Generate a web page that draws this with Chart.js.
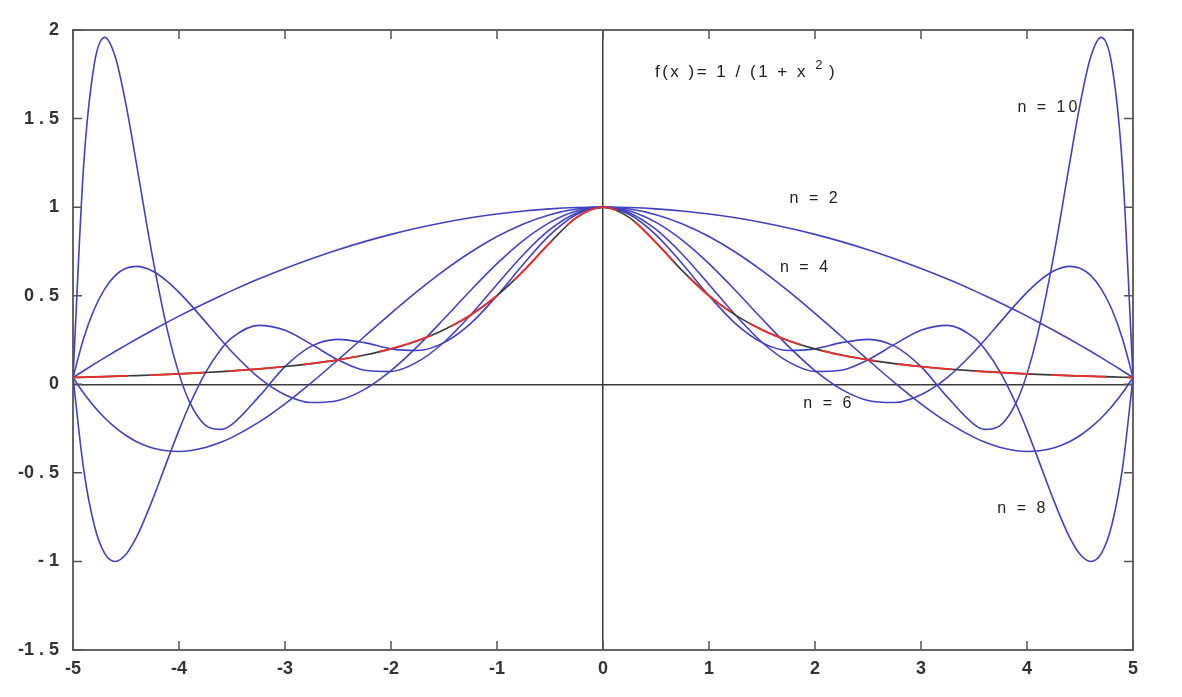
<!DOCTYPE html>
<html><head><meta charset="utf-8">
<script src="https://cdn.jsdelivr.net/npm/chart.js@4/dist/chart.umd.min.js"></script>
<style>html,body{margin:0;padding:0;background:#fff;}canvas{display:block;}</style>
</head><body>
<canvas id="c" width="1182" height="697"></canvas>
<script>
// sample abscissas
const xs = [-5,-4.9,-4.8,-4.7,-4.6,-4.5,-4.4,-4.25,-4.1,-4,-3.9,-3.75,-3.6,-3.5,-3.25,-3,-2.75,-2.5,-2.25,-2,-1.75,-1.5,-1.25,-1,-0.75,-0.5,-0.25,0,0.25,0.5,0.75,1,1.25,1.5,1.75,2,2.25,2.5,2.75,3,3.25,3.5,3.6,3.75,3.9,4,4.1,4.25,4.4,4.5,4.6,4.7,4.8,4.9,5];
// f(x) = 1/(1+x^2)
const runge = [.0385,.0400,.0416,.0433,.0451,.0471,.0491,.0525,.0561,.0588,.0617,.0664,.0716,.0755,.0865,.1,.1168,.1379,.1649,.2,.2462,.3077,.3902,.5,.64,.8,.9412,1,.9412,.8,.64,.5,.3902,.3077,.2462,.2,.1649,.1379,.1168,.1,.0865,.0755,.0716,.0664,.0617,.0588,.0561,.0525,.0491,.0471,.0451,.0433,.0416,.0400,.0385];
const n2 = [.0385,.0765,.1138,.1504,.1862,.2212,.2554,.3053,.3535,.3846,.4150,.4591,.5015,.5288,.5938,.6538,.7091,.7596,.8053,.8462,.8822,.9135,.9399,.9615,.9784,.9904,.9976,1,.9976,.9904,.9784,.9615,.9399,.9135,.8822,.8462,.8053,.7596,.7091,.6538,.5938,.5288,.5015,.4591,.4150,.3846,.3535,.3053,.2554,.2212,.1862,.1504,.1138,.0765,.0385];
const n4 = [.0385,-.0496,-.1257,-.1906,-.2449,-.2891,-.3239,-.3595,-.3769,-.3793,-.3750,-.3568,-.3263,-.2998,-.2153,-.1101,.0096,.1379,.2698,.4005,.5258,.6419,.7456,.8342,.9054,.9576,.9893,1,.9893,.9576,.9054,.8342,.7456,.6419,.5258,.4005,.2698,.1379,.0096,-.1101,-.2153,-.2998,-.3263,-.3568,-.3750,-.3793,-.3769,-.3595,-.3239,-.2891,-.2449,-.1906,-.1257,-.0496,.0385];
const n6 = [.0385,.2588,.4233,.5390,.6145,.6546,.6658,.6396,.5758,.5191,.4552,.3523,.2485,.1824,.0391,-.0590,-.1030,-.0914,-.0285,.0773,.2143,.3696,.5297,.6813,.8128,.9142,.9782,1,.9782,.9142,.8128,.6813,.5297,.3696,.2143,.0773,-.0285,-.0914,-.1030,-.0590,.0391,.1824,.2485,.3523,.4552,.5191,.5758,.6396,.6658,.6546,.6145,.5390,.4233,.2588,.0385];
const n8 = [.0385,-.4781,-.7940,-.9560,-1.0000,-.9598,-.8620,-.6519,-.4139,-.2588,-.1155,.0664,.2011,.2638,.3327,.3049,.2251,.1379,.0794,.0726,.1266,.2374,.3902,.5636,.7328,.8740,.9674,1,.9674,.8740,.7328,.5636,.3902,.2374,.1266,.0726,.0794,.1379,.2251,.3049,.3327,.2638,.2011,.0664,-.1155,-.2588,-.4139,-.6519,-.8620,-.9598,-1.0000,-.9560,-.7940,-.4781,.0385];
const n10 = [.0385,1.2303,1.8044,1.9584,1.8458,1.5787,1.2402,.7195,.2802,.0588,-.1008,-.2315,-.2546,-.2262,-.0726,.1,.2156,.2538,.2350,.2,.1906,.2353,.3426,.5,.6790,.8434,.9586,1,.9586,.8434,.6790,.5,.3426,.2353,.1906,.2,.2350,.2538,.2156,.1,-.0726,-.2262,-.2546,-.2315,-.1008,.0588,.2802,.7195,1.2402,1.5787,1.8458,1.9584,1.8044,1.2303,.0385];

const xTickValues = [-5,-4,-3,-2,-1,0,1,2,3,4,5];
const xTickLabels = ['-5','-4','-3','-2','-1','0','1','2','3','4','5'];
const yTickValues = [-1.5,-1,-0.5,0,0.5,1,1.5,2];
const yTickLabels = ['-1 . 5','- 1','-0 . 5','0','0 . 5','1','1 . 5','2'];

const curveLabels = ['n = 10','n = 2','n = 4','n = 6','n = 8'];
const curveLabelX = [3.91, 1.76, 1.67, 1.89, 3.72];
const curveLabelY = [1.56, 1.05, 0.66, -0.11, -0.70];

const pts = arr => xs.map((x,i)=>({x:x, y:arr[i]}));
const BLUE = '#4242c0';
const tickFontY = {family:'"Liberation Sans", Arial, sans-serif', size:18, weight:'bold'};
const tickFontX = {family:'"Liberation Sans Narrow", "Liberation Sans", Arial, sans-serif', size:18, weight:'bold'};

const inTicks = {
  id:'inTicks',
  afterDraw(chart){
    const {ctx, chartArea:a, scales} = chart;
    const x = scales.x, y = scales.y;
    ctx.save();
    ctx.strokeStyle = '#555';
    ctx.lineWidth = 1.5;
    ctx.beginPath();
    xTickValues.forEach(v=>{
      const px = x.getPixelForValue(v);
      ctx.moveTo(px, a.bottom); ctx.lineTo(px, a.bottom-9);
      ctx.moveTo(px, a.top); ctx.lineTo(px, a.top+9);
    });
    yTickValues.forEach(v=>{
      const py = y.getPixelForValue(v);
      ctx.moveTo(a.left, py); ctx.lineTo(a.left+9, py);
      ctx.moveTo(a.right, py); ctx.lineTo(a.right-9, py);
    });
    ctx.stroke();
    // annotations
    ctx.fillStyle = '#222';
    ctx.textBaseline = 'middle';
    ctx.textAlign = 'left';
    ctx.font = '16px "Liberation Sans", Arial, sans-serif';
    try { ctx.letterSpacing = '3px'; } catch(e) {}
    curveLabels.forEach((t,i)=>{
      ctx.fillText(t, x.getPixelForValue(curveLabelX[i]), y.getPixelForValue(curveLabelY[i]));
    });
    // f(x) label
    try { ctx.letterSpacing = '2.5px'; } catch(e) {}
    ctx.font = '17px "Liberation Sans", Arial, sans-serif';
    let fx = x.getPixelForValue(0.49), fy = y.getPixelForValue(1.76);
    const main = 'f(x )= 1 / (1 + x ';
    ctx.fillText(main, fx, fy);
    fx += ctx.measureText(main).width;
    ctx.font = '13px "Liberation Sans", Arial, sans-serif';
    ctx.fillText('2', fx, fy-7);
    fx += ctx.measureText('2').width + 4;
    ctx.font = '17px "Liberation Sans", Arial, sans-serif';
    ctx.fillText(')', fx, fy);
    ctx.restore();
  }
};

const lineDs = (arr, color, w, dash, order) => ({data: pts(arr), borderColor: color, borderWidth: w, borderDash: dash || [], pointRadius: 0, fill: false, order: order});

new Chart(document.getElementById('c'), {
  type: 'line',
  data: {
    datasets: [
      lineDs(runge, '#e8322e', 1.9, [55, 22], 0),
      lineDs(runge, '#3a3a3a', 1.6, [], 1),
      lineDs(n2, BLUE, 1.6, [], 2),
      lineDs(n4, BLUE, 1.6, [], 3),
      lineDs(n6, BLUE, 1.6, [], 4),
      lineDs(n8, BLUE, 1.6, [], 5),
      lineDs(n10, BLUE, 1.6, [], 6)
    ]
  },
  options: {
    responsive: false,
    animation: false,
    devicePixelRatio: 1,
    layout: {padding: 0},
    plugins: {legend: {display: false}, tooltip: {enabled: false}, title: {display: false}},
    elements: {point: {radius: 0}, line: {cubicInterpolationMode: 'monotone'}},
    scales: {
      x: {
        type: 'linear', position: 'bottom', min: -5, max: 5,
        ticks: {stepSize: 1, padding: 8, color: '#333', font: tickFontX, maxRotation: 0,
          callback: v => { const i = xTickValues.indexOf(v); return i >= 0 ? xTickLabels[i] : ''; }},
        grid: {drawTicks: false, lineWidth: 1.5, color: c => (c.tick && c.tick.value === 0) ? '#3a3a3a' : 'rgba(0,0,0,0)'},
        border: {display: true, color: '#666', width: 2},
        afterFit: s => { s.height = 47; }
      },
      x2: {
        type: 'linear', position: 'top', min: -5, max: 5,
        ticks: {display: false, stepSize: 1},
        grid: {display: false, drawTicks: false},
        border: {display: true, color: '#666', width: 2},
        afterFit: s => { s.height = 30; }
      },
      y: {
        type: 'linear', position: 'left', min: -1.5, max: 2,
        ticks: {stepSize: 0.5, padding: 14, color: '#333', font: tickFontY,
          callback: v => { const i = yTickValues.indexOf(v); return i >= 0 ? yTickLabels[i] : ''; }},
        grid: {drawTicks: false, lineWidth: 1.5, color: c => (c.tick && c.tick.value === 0) ? '#3a3a3a' : 'rgba(0,0,0,0)'},
        border: {display: true, color: '#666', width: 2},
        afterFit: s => { s.width = 73; }
      },
      y2: {
        type: 'linear', position: 'right', min: -1.5, max: 2,
        ticks: {display: false, stepSize: 0.5},
        grid: {display: false, drawTicks: false},
        border: {display: true, color: '#666', width: 2},
        afterFit: s => { s.width = 49; }
      }
    }
  },
  plugins: [inTicks]
});
</script>
</body></html>
